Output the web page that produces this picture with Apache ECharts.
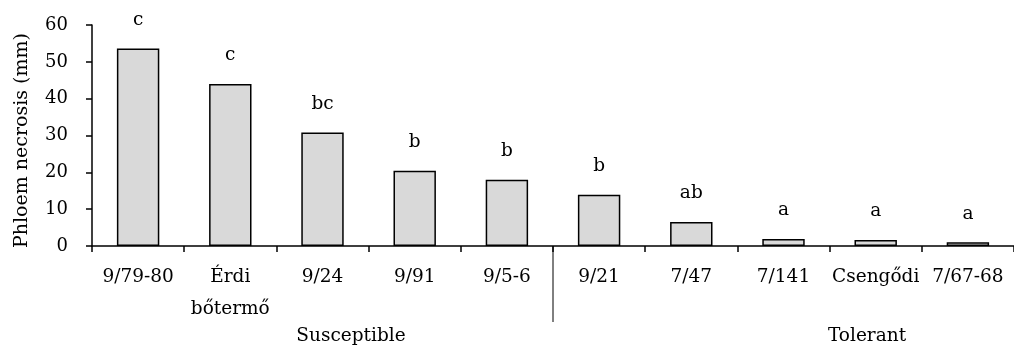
<!DOCTYPE html>
<html>
<head>
<meta charset="utf-8">
<script src="https://cdn.jsdelivr.net/npm/echarts@6/dist/echarts.min.js"></script>
<style>
html,body{margin:0;padding:0;background:#fff;}
#chart{width:1014px;height:345px;}
</style>
</head>
<body>
<div id="chart"></div>
<script>
const categories = ['9/79-80', 'Érdi\nbőtermő', '9/24', '9/91', '9/5-6', '9/21', '7/47', '7/141', 'Csengődi', '7/67-68'];
const values = [53.6, 44.0, 30.8, 20.4, 18.0, 13.9, 6.5, 1.9, 1.6, 1.0];
const letters = ['c', 'c', 'bc', 'b', 'b', 'b', 'ab', 'a', 'a', 'a'];
const groupNames = ['Susceptible', 'Tolerant'];
const yTicks = [0, 10, 20, 30, 40, 50, 60];

const FONT = 'DejaVu Serif';
const chart = echarts.init(document.getElementById('chart'), null, {renderer: 'canvas'});
const option = {
  animation: false,
  backgroundColor: '#fff',
  textStyle: {fontFamily: FONT, color: '#000'},
  grid: {left: 92, top: 25, width: 928, bottom: 99, containLabel: false},
  xAxis: {
    type: 'category',
    data: categories,
    boundaryGap: true,
    axisLine: {show: true, lineStyle: {color: '#000', width: 1.5}},
    axisTick: {show: true, length: 6, lineStyle: {color: '#000', width: 1.5}},
    axisLabel: {fontFamily: FONT, fontSize: 18.5, color: '#000', margin: 15, lineHeight: 32, interval: 0},
    splitLine: {show: false}
  },
  yAxis: {
    type: 'value',
    min: yTicks[0],
    max: yTicks[yTicks.length - 1],
    interval: 10,
    name: 'Phloem necrosis (mm)',
    nameLocation: 'middle',
    nameGap: 60,
    nameTextStyle: {fontFamily: FONT, fontSize: 19, color: '#000', padding: [0, 10, 0, 0]},
    axisLine: {show: true, lineStyle: {color: '#000', width: 1.5}},
    axisTick: {show: true, length: 6, lineStyle: {color: '#000', width: 1.5}},
    axisLabel: {fontFamily: FONT, fontSize: 18, color: '#000', margin: 24},
    splitLine: {show: false}
  },
  series: [{
    type: 'bar',
    data: values,
    barWidth: '46%',
    itemStyle: {color: '#d9d9d9', borderColor: '#000', borderWidth: 1.5},
    label: {
      show: true,
      position: 'top',
      distance: 19,
      fontFamily: FONT,
      fontSize: 18.5,
      color: '#000',
      formatter: p => letters[p.dataIndex]
    }
  }]
};
chart.setOption(option);

// separator between the two groups, derived from the category axis
const x4 = chart.convertToPixel({xAxisIndex: 0}, 4);
const x5 = chart.convertToPixel({xAxisIndex: 0}, 5);
const sepX = (x4 + x5) / 2;
const y0 = chart.convertToPixel({yAxisIndex: 0}, 0);
chart.setOption({
  graphic: [
    {type: 'line', shape: {x1: sepX, y1: y0, x2: sepX, y2: y0 + 76}, style: {stroke: '#000', lineWidth: 1}, silent: true},
    {type: 'text', x: 351, y: 336, style: {text: groupNames[0], font: '18.5px "DejaVu Serif"', fill: '#000', textAlign: 'center', textVerticalAlign: 'middle'}},
    {type: 'text', x: 867, y: 336, style: {text: groupNames[1], font: '18.5px "DejaVu Serif"', fill: '#000', textAlign: 'center', textVerticalAlign: 'middle'}}
  ]
});
</script>
</body>
</html>
